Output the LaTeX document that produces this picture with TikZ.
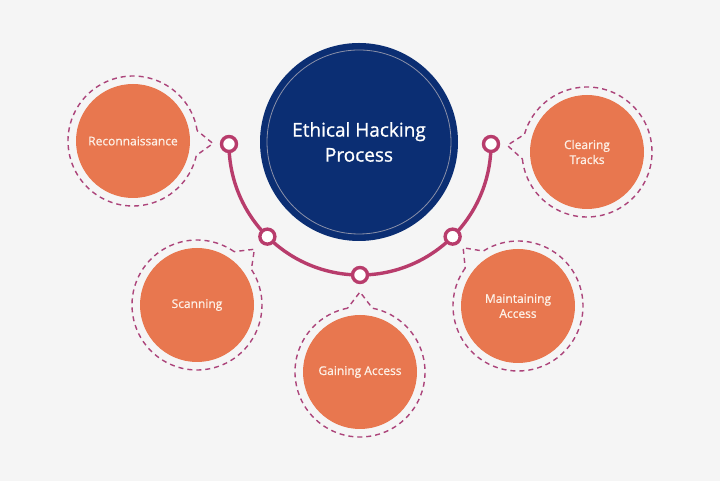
\documentclass[tikz,border=0pt]{standalone}
\usepackage{fontspec}
\setmainfont{Open Sans}
\newfontfamily\labelfont{Open Sans}[FakeBold=0.9]
\usetikzlibrary{calc}
\definecolor{bggray}{HTML}{F5F5F5}
\definecolor{stepor}{HTML}{E8774F}
\definecolor{navyblue}{HTML}{0B2E73}
\definecolor{arcmag}{HTML}{B83C6C}
\definecolor{dashmag}{HTML}{AC447A}
\definecolor{ringgray}{HTML}{8A90A8}
\definecolor{labelcream}{HTML}{FDF0E6}
\begin{document}
\begin{tikzpicture}[x=1pt, y=1pt,
    stage/.style={circle, fill=stepor, minimum size=114pt, inner sep=0pt,
        text=labelcream, align=center, font=\labelfont\fontsize{12}{15}\selectfont},
    hub/.style={circle, draw=arcmag, line width=3.4pt, fill=white,
        minimum size=15pt, inner sep=0pt},
    pointring/.style={dashmag, line width=1.4pt, dash pattern=on 5pt off 4pt}]
    % background
    \fill[bggray] (0,0) rectangle (720,481);

    % arc under the centre
    \coordinate (o) at (360,337);
    \draw[arcmag, line width=3.4pt] ($(o)+(180:131)$) arc[start angle=180, end angle=360, radius=131];

    % centre circle
    \node[circle, fill=navyblue, minimum size=198pt, text=white,
        font=\labelfont\fontsize{19}{25}\selectfont, align=center] (c) at (359,339) {Ethical Hacking\\Process};
    \draw[ringgray, line width=0.8pt] (c.center) circle (92);

    % dots on the arc
    \foreach \a [count=\i] in {180,225,270,315,360} {
        \node[hub] (d\i) at ($(o)+(\a:131)$) {};
    }

    % the five steps
    \node[stage] (s1) at (133,340) {Reconnaissance};
    \node[stage] (s2) at (197,176) {Scanning};
    \node[stage] (s3) at (360,109) {Gaining Access};
    \node[stage] (s4) at (518,175) {Maintaining\\Access};
    \node[stage] (s5) at (587,329) {Clearing\\Tracks};

    % dashed rings pointing at the dots
    \foreach \i in {1,...,5} {
        \draw[pointring] let \p1=($(d\i)-(s\i)$), \n1={atan2(\y1,\x1)} in
            ($(s\i.center)+(\n1+11:65)$) arc[start angle=\n1+11, delta angle=338, radius=65]
            -- ($(s\i.center)+(\n1:80)$) -- cycle;
    }
\end{tikzpicture}
\end{document}
